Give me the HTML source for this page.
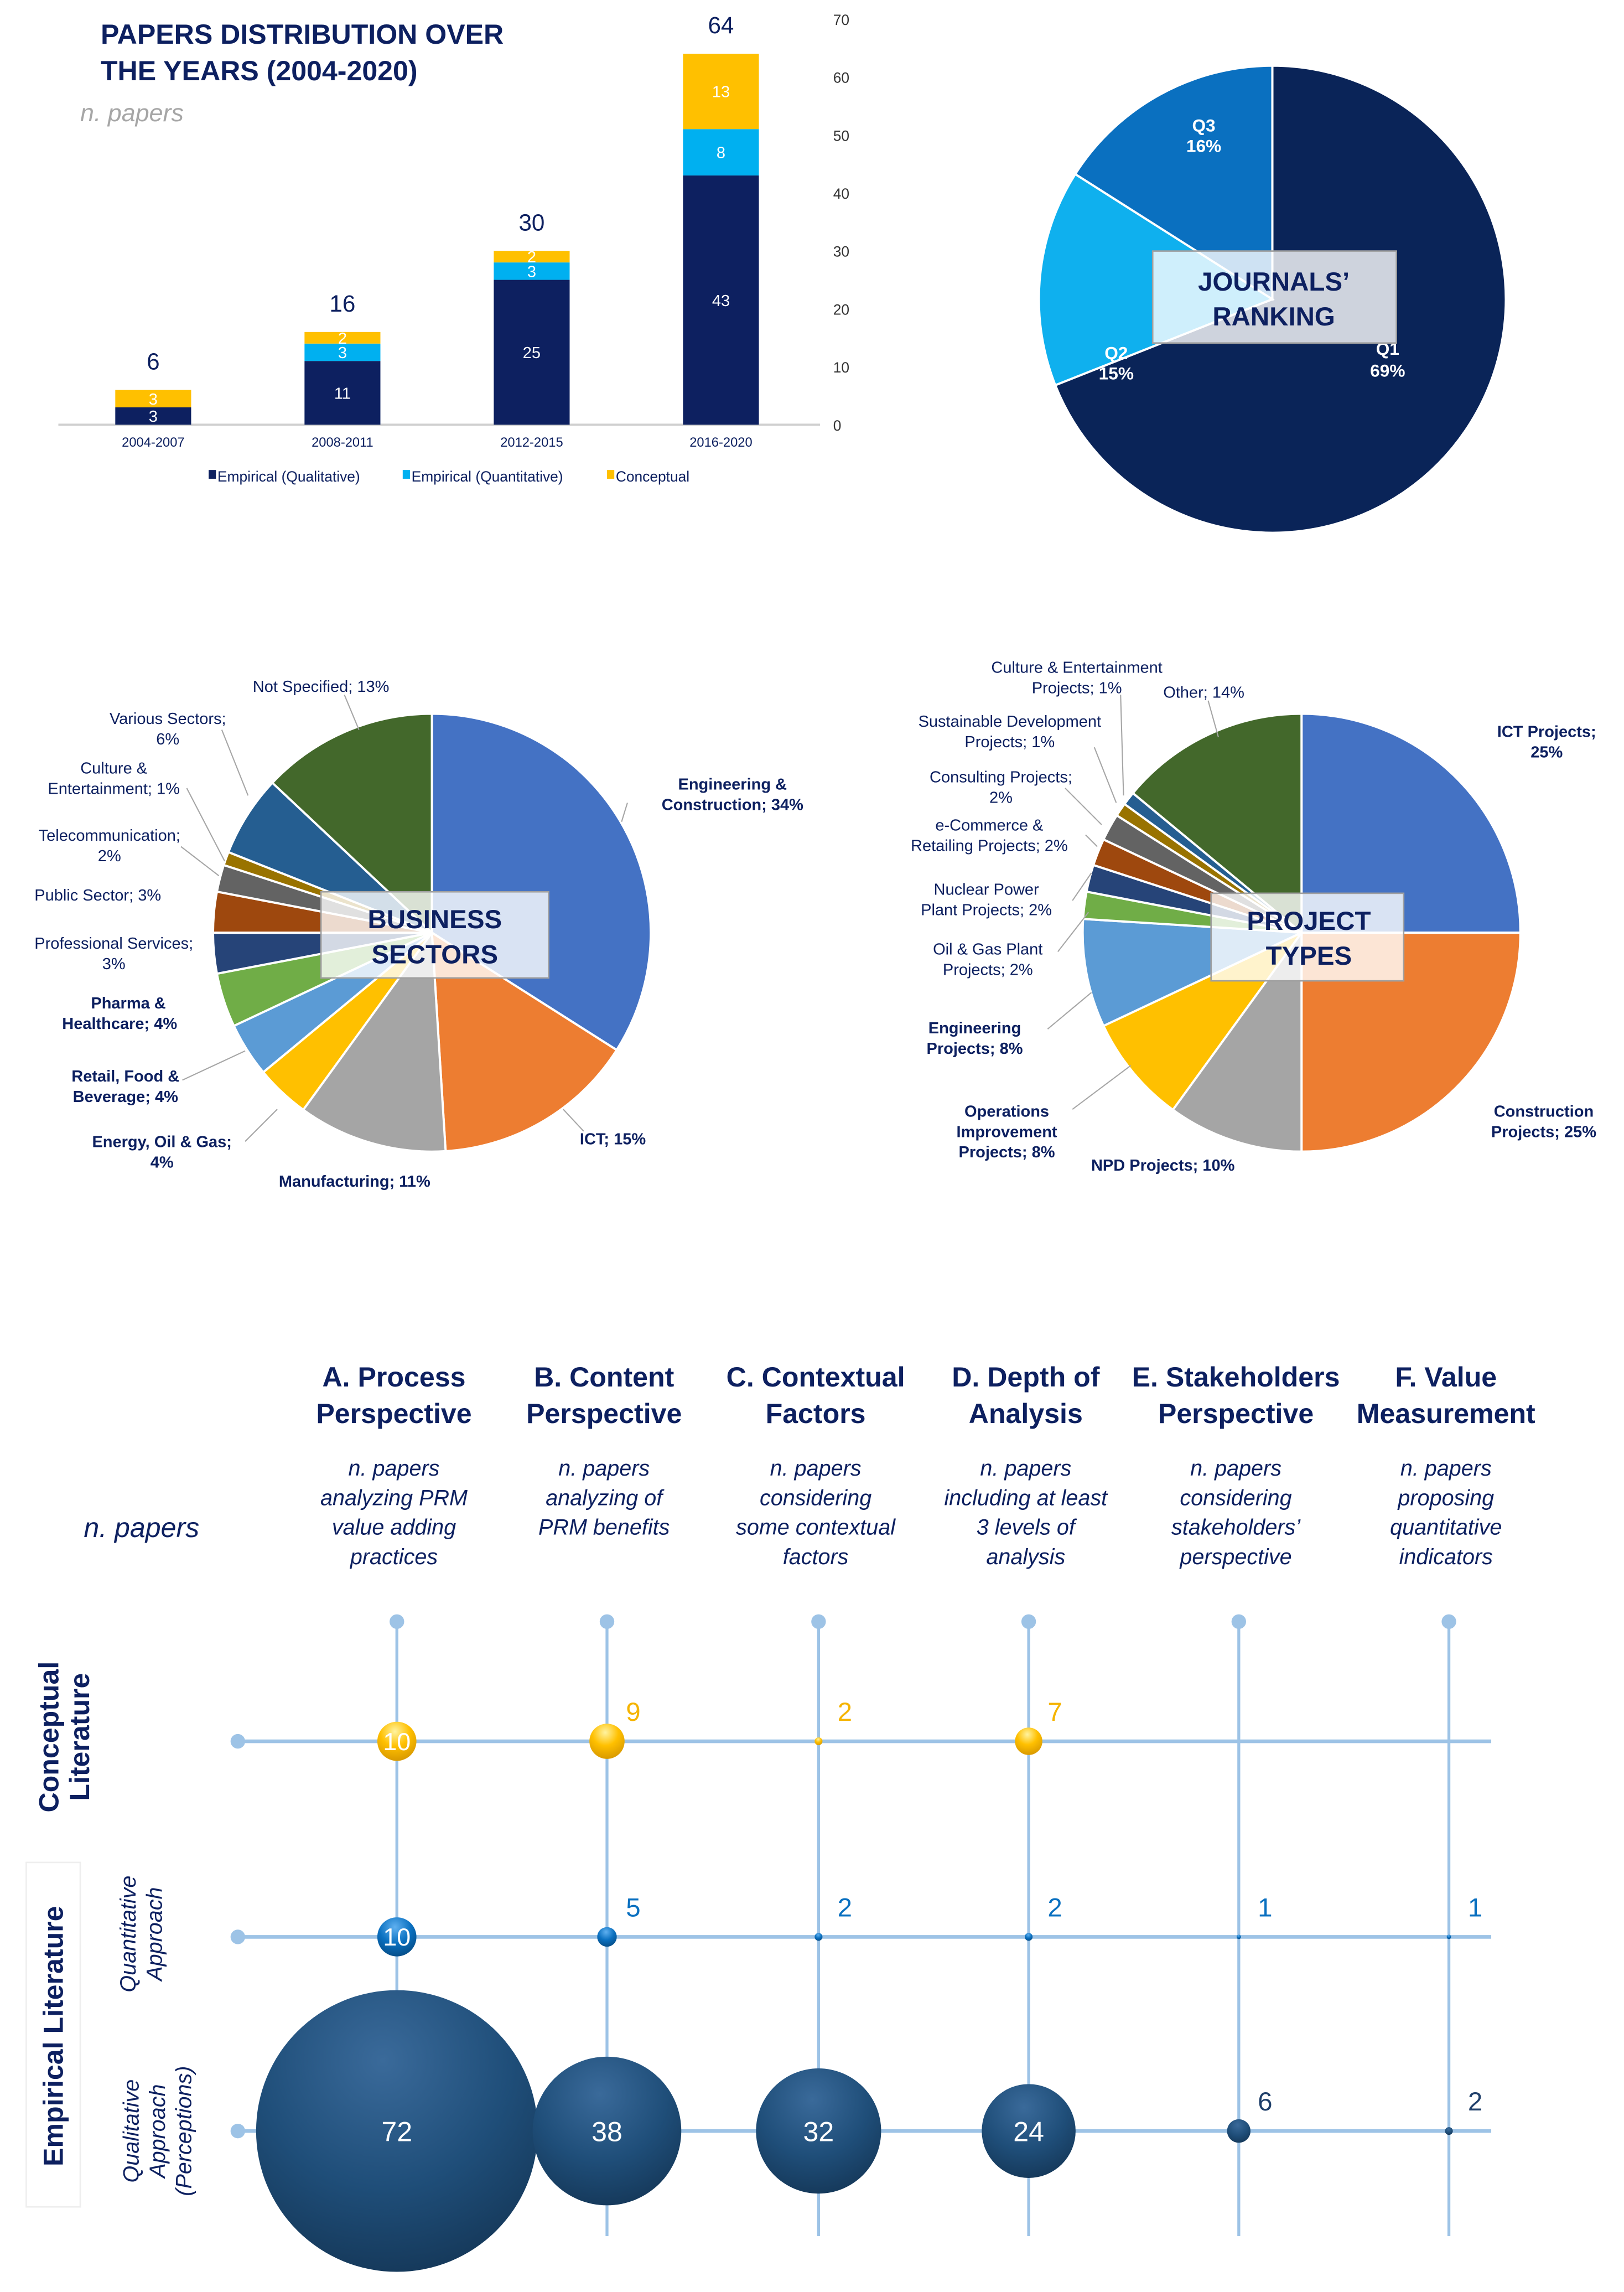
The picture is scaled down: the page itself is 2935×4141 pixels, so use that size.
<!DOCTYPE html>
<html><head><meta charset="utf-8">
<style>
html,body{margin:0;padding:0;background:#fff;}
svg{display:block;font-family:"Liberation Sans",sans-serif;}
</style></head>
<body>
<svg id="root" xmlns="http://www.w3.org/2000/svg" width="2935" height="4141" viewBox="0 0 1113 1570.3" preserveAspectRatio="none">
<defs>
 <radialGradient id="gNavy" cx="45%" cy="25%" r="75%"><stop offset="0" stop-color="#3a6a9a"/><stop offset="0.6" stop-color="#1f4e79"/><stop offset="1" stop-color="#163a5c"/></radialGradient>
 <radialGradient id="gYel" cx="45%" cy="25%" r="75%"><stop offset="0" stop-color="#fff3a0"/><stop offset="0.5" stop-color="#ffc000"/><stop offset="1" stop-color="#d99a00"/></radialGradient>
 <radialGradient id="gBlue" cx="45%" cy="25%" r="75%"><stop offset="0" stop-color="#5fb0f0"/><stop offset="0.55" stop-color="#0a70c0"/><stop offset="1" stop-color="#064f8a"/></radialGradient>
</defs>
<rect width="1113" height="1570.3" fill="#fff"/>

<!-- Bar chart -->
<g id="bar">
 <text x="69" y="30" font-size="19" font-weight="bold" fill="#0d2060">PAPERS DISTRIBUTION OVER</text>
 <text x="69" y="55" font-size="19" font-weight="bold" fill="#0d2060">THE YEARS (2004-2020)</text>
 <text x="55" y="83" font-size="17" font-style="italic" fill="#a6a6a6">n. papers</text>
 <line x1="40" y1="291" x2="562" y2="291" stroke="#d0d0d0" stroke-width="1.5"/>
 <g id="legend">
  <rect x="143" y="322" width="5" height="6" fill="#0d2060"/>
  <text x="149" y="330" font-size="10" fill="#0d2060">Empirical (Qualitative)</text>
  <rect x="276" y="322" width="5" height="6" fill="#00b0f0"/>
  <text x="282" y="330" font-size="10" fill="#0d2060">Empirical (Quantitative)</text>
  <rect x="416" y="322" width="5" height="6" fill="#ffc000"/>
  <text x="422" y="330" font-size="10" fill="#0d2060">Conceptual</text>
 </g>
</g>

<!-- Journals pie -->
<g id="jpie"></g>
<g font-weight="bold" font-size="12" fill="#fff" text-anchor="middle">
 <text x="825" y="90">Q3</text>
 <text x="825" y="104">16%</text>
 <text x="765" y="246">Q2</text>
 <text x="765" y="260">15%</text>
 <text x="951" y="243">Q1</text>
 <text x="951" y="258">69%</text>
</g>
<rect x="790" y="172" width="167" height="63" fill="#fff" fill-opacity="0.8" stroke="#a0a0a0" stroke-width="1"/>
<text x="873" y="199" font-size="18" font-weight="bold" fill="#0d2060" text-anchor="middle">JOURNALS’</text>
<text x="873" y="223" font-size="18" font-weight="bold" fill="#0d2060" text-anchor="middle">RANKING</text>

<!-- Business sectors pie -->
<g id="bpie"></g>
<g stroke="#a6a6a6" stroke-width="0.8" fill="none">
 <line x1="236" y1="476" x2="246" y2="500"/>
 <line x1="152" y1="500" x2="170" y2="545"/>
 <line x1="128" y1="540" x2="154" y2="590"/>
 <line x1="124" y1="580" x2="150" y2="600"/>
 <line x1="400" y1="775" x2="386" y2="760"/>
 <line x1="168" y1="782" x2="190" y2="760"/>
 <line x1="125" y1="740" x2="168" y2="720"/>
 <line x1="430" y1="550" x2="426" y2="563"/>
</g>
<g font-size="11" fill="#0d2060" text-anchor="middle">
 <text x="502" y="541" font-weight="bold">Engineering &amp;</text>
 <text x="502" y="555" font-weight="bold">Construction; 34%</text>
 <text x="420" y="784" font-weight="bold">ICT; 15%</text>
 <text x="243" y="813" font-weight="bold">Manufacturing; 11%</text>
 <text x="111" y="786" font-weight="bold">Energy, Oil &amp; Gas;</text>
 <text x="111" y="800" font-weight="bold">4%</text>
 <text x="86" y="741" font-weight="bold">Retail, Food &amp;</text>
 <text x="86" y="755" font-weight="bold">Beverage; 4%</text>
 <text x="88" y="691" font-weight="bold">Pharma &amp;</text>
 <text x="82" y="705" font-weight="bold">Healthcare; 4%</text>
 <text x="78" y="650">Professional Services;</text>
 <text x="78" y="664">3%</text>
 <text x="67" y="617">Public Sector; 3%</text>
 <text x="75" y="576">Telecommunication;</text>
 <text x="75" y="590">2%</text>
 <text x="78" y="530">Culture &amp;</text>
 <text x="78" y="544">Entertainment; 1%</text>
 <text x="115" y="496">Various Sectors;</text>
 <text x="115" y="510">6%</text>
 <text x="220" y="474">Not Specified; 13%</text>
</g>
<rect x="220" y="611" width="156" height="59" fill="#fff" fill-opacity="0.8" stroke="#a0a0a0" stroke-width="1"/>
<text x="298" y="636" font-size="18" font-weight="bold" fill="#0d2060" text-anchor="middle">BUSINESS</text>
<text x="298" y="660" font-size="18" font-weight="bold" fill="#0d2060" text-anchor="middle">SECTORS</text>

<!-- Project types pie -->
<g id="ppie"></g>
<g stroke="#a6a6a6" stroke-width="0.8" fill="none">
 <line x1="768" y1="476" x2="770" y2="545"/>
 <line x1="750" y1="512" x2="765" y2="550"/>
 <line x1="730" y1="540" x2="755" y2="565"/>
 <line x1="744" y1="572" x2="752" y2="580"/>
 <line x1="735" y1="617" x2="748" y2="598"/>
 <line x1="725" y1="652" x2="746" y2="625"/>
 <line x1="718" y1="705" x2="748" y2="680"/>
 <line x1="735" y1="760" x2="775" y2="730"/>
 <line x1="828" y1="480" x2="835" y2="505"/>
</g>
<g font-size="11" fill="#0d2060" text-anchor="middle">
 <text x="1060" y="505" font-weight="bold">ICT Projects;</text>
 <text x="1060" y="519" font-weight="bold">25%</text>
 <text x="1058" y="765" font-weight="bold">Construction</text>
 <text x="1058" y="779" font-weight="bold">Projects; 25%</text>
 <text x="797" y="802" font-weight="bold">NPD Projects; 10%</text>
 <text x="690" y="765" font-weight="bold">Operations</text>
 <text x="690" y="779" font-weight="bold">Improvement</text>
 <text x="690" y="793" font-weight="bold">Projects; 8%</text>
 <text x="668" y="708" font-weight="bold">Engineering</text>
 <text x="668" y="722" font-weight="bold">Projects; 8%</text>
 <text x="677" y="654">Oil &amp; Gas Plant</text>
 <text x="677" y="668">Projects; 2%</text>
 <text x="676" y="613">Nuclear Power</text>
 <text x="676" y="627">Plant Projects; 2%</text>
 <text x="678" y="569">e-Commerce &amp;</text>
 <text x="678" y="583">Retailing Projects; 2%</text>
 <text x="686" y="536">Consulting Projects;</text>
 <text x="686" y="550">2%</text>
 <text x="692" y="498">Sustainable Development</text>
 <text x="692" y="512">Projects; 1%</text>
 <text x="738" y="461">Culture &amp; Entertainment</text>
 <text x="738" y="475">Projects; 1%</text>
 <text x="825" y="478">Other; 14%</text>
</g>
<rect x="830" y="612" width="132" height="60" fill="#fff" fill-opacity="0.8" stroke="#a0a0a0" stroke-width="1"/>
<text x="897" y="637" font-size="18" font-weight="bold" fill="#0d2060" text-anchor="middle">PROJECT</text>
<text x="897" y="661" font-size="18" font-weight="bold" fill="#0d2060" text-anchor="middle">TYPES</text>

<!-- Bubble matrix -->
<g id="bubble">
 <text x="97" y="1053" font-size="19" font-style="italic" fill="#0d2060" text-anchor="middle">n. papers</text>
 <rect x="18" y="1276" width="37" height="236" fill="#fff" stroke="#eeeeee"/>
 <g transform="translate(48,1190) rotate(-90)">
  <text x="0" y="-8" font-size="19" font-weight="bold" fill="#0d2060" text-anchor="middle">Conceptual</text>
  <text x="0" y="13" font-size="19" font-weight="bold" fill="#0d2060" text-anchor="middle">Literature</text>
 </g>
 <text transform="translate(43,1395) rotate(-90)" font-size="19" font-weight="bold" fill="#0d2060" text-anchor="middle">Empirical Literature</text>
 <g transform="translate(97,1325) rotate(-90)" font-size="15" font-style="italic" fill="#0d2060" text-anchor="middle">
  <text x="0" y="-4">Quantitative</text><text x="0" y="14">Approach</text>
 </g>
 <g transform="translate(108,1460) rotate(-90)" font-size="15" font-style="italic" fill="#0d2060" text-anchor="middle">
  <text x="0" y="-13">Qualitative</text><text x="0" y="5">Approach</text><text x="0" y="23">(Perceptions)</text>
 </g>
</g>

<script>
var NS="http://www.w3.org/2000/svg";
function mk(tag,attrs,parent){var e=document.createElementNS(NS,tag);for(var k in attrs)e.setAttribute(k,attrs[k]);if(parent)parent.appendChild(e);return e;}

// ---- Bar chart data ----
var barCategories=["2004-2007","2008-2011","2012-2015","2016-2020"];
var barQualitative=[3,11,25,43];
var barQuantitative=[0,3,3,8];
var barConceptual=[3,2,2,13];
var barTicks=[0,10,20,30,40,50,60,70];

// ---- Pie data ----
var journalLabels=["Q1","Q2","Q3"];
var journalValues=[69,15,16];
var sectorLabels=["Engineering & Construction","ICT","Manufacturing","Energy, Oil & Gas","Retail, Food & Beverage","Pharma & Healthcare","Professional Services","Public Sector","Telecommunication","Culture & Entertainment","Various Sectors","Not Specified"];
var sectorValues=[34,15,11,4,4,4,3,3,2,1,6,13];
var projectLabels=["ICT Projects","Construction Projects","NPD Projects","Operations Improvement Projects","Engineering Projects","Oil & Gas Plant Projects","Nuclear Power Plant Projects","e-Commerce & Retailing Projects","Consulting Projects","Sustainable Development Projects","Culture & Entertainment Projects","Other"];
var projectValues=[25,25,10,8,8,2,2,2,2,1,1,14];

// ---- Bubble data ----
var bubbleColumns=["A. Process|Perspective","B. Content|Perspective","C. Contextual|Factors","D. Depth of|Analysis","E. Stakeholders|Perspective","F. Value|Measurement"];
var bubbleSubtitles=["n. papers|analyzing PRM|value adding|practices","n. papers|analyzing of|PRM benefits","n. papers|considering|some contextual|factors","n. papers|including at least|3 levels of|analysis","n. papers|considering|stakeholders’|perspective","n. papers|proposing|quantitative|indicators"];
var conceptualValues=[10,9,2,7,0,0];
var quantitativeValues=[10,5,2,2,1,1];
var qualitativeValues=[72,38,32,24,6,2];

// ===== Bar chart =====
(function(){
 var g=document.getElementById('bar');
 var y0=291,unit=278/70,bw=52;
 function ys(v){return y0-v*unit;}
 function xc(i){return 105+i*129.7;}
 barTicks.forEach(function(t){
  var tx=mk('text',{x:571,y:ys(t)+4,'font-size':10,fill:'#333','text-anchor':'start'},g);tx.textContent=t;
  
  
 });
 var series=[[barQualitative,'#0d2060','qualitative'],[barQuantitative,'#00b0f0','quantitative'],[barConceptual,'#ffc000','conceptual']];
 barCategories.forEach(function(c,i){
  var base=0;
  series.forEach(function(s){
   var v=s[0][i]; if(v<=0)return;
   var r=mk('rect',{x:xc(i)-bw/2,y:ys(base+v),width:bw,height:v*unit,fill:s[1]},g);
   
   
   var t=mk('text',{x:xc(i),y:ys(base+v/2)+4,'font-size':11,fill:'#fff','text-anchor':'middle'},g);t.textContent=v;
   
   
   base+=v;
  });
  var tot=mk('text',{x:xc(i),y:ys(base)-14,'font-size':16,fill:'#0d2060','text-anchor':'middle'},g);tot.textContent=base;
  
  
  var cl=mk('text',{x:xc(i),y:306,'font-size':9,fill:'#0d2060','text-anchor':'middle'},g);cl.textContent=c;
  
  
 });
})();

// ===== Pies =====
function drawPie(id,cx,cy,r,vals,labels,colors){
 var g=document.getElementById(id);
 var tot=vals.reduce(function(a,b){return a+b;},0),a=0;
 vals.forEach(function(v,i){
  var a1=a+v/tot*2*Math.PI;
  var x0=cx+r*Math.sin(a),y0=cy-r*Math.cos(a),x1=cx+r*Math.sin(a1),y1=cy-r*Math.cos(a1);
  var large=(a1-a)>Math.PI?1:0;
  var p=mk('path',{d:'M'+cx+','+cy+' L'+x0+','+y0+' A'+r+','+r+' 0 '+large+' 1 '+x1+','+y1+' Z',fill:colors[i],stroke:'#fff','stroke-width':1.5},g);
  
  
  a=a1;
 });
}
var pal=['#4472c4','#ed7d31','#a5a5a5','#ffc000','#5b9bd5','#70ad47','#264478','#9e480e','#636363','#997300','#255e91','#43682b'];
drawPie('jpie',872,205,160,journalValues,journalLabels,['#0a2458','#0fb0ee','#0a70c0']);
drawPie('bpie',296,639,150,sectorValues,sectorLabels,pal);
drawPie('ppie',892,639,150,projectValues,projectLabels,pal);

// ===== Bubble matrix =====
(function(){
 var g=document.getElementById('bubble');
 var cols=[272,416,561,705,849,993], rows=[1193,1327,1460];
 bubbleColumns.forEach(function(h,i){
  h.split('|').forEach(function(l,k){
   var t=mk('text',{x:cols[i]-2,y:950+k*25,'font-size':19,'font-weight':'bold',fill:'#0d2060','text-anchor':'middle'},g);t.textContent=l;
   
   
  });
  bubbleSubtitles[i].split('|').forEach(function(l,k){
   var t=mk('text',{x:cols[i]-2,y:1011+k*20.2,'font-size':15,'font-style':'italic',fill:'#0d2060','text-anchor':'middle'},g);t.textContent=l;
   
   
  });
 });
 cols.forEach(function(x){
  var l=mk('line',{x1:x,y1:1111,x2:x,y2:1532,stroke:'#9dc3e6','stroke-width':2},g);
  
  
  var d=mk('circle',{cx:x,cy:1111,r:5,fill:'#9dc3e6'},g);
  
  
 });
 rows.forEach(function(y){
  var l=mk('line',{x1:163,y1:y,x2:1022,y2:y,stroke:'#9dc3e6','stroke-width':2.5},g);
  
  
  var d=mk('circle',{cx:163,cy:y,r:5,fill:'#9dc3e6'},g);
  
  
 });
 var rowSets=[[conceptualValues,'url(#gYel)','#f5b400','conceptual'],[quantitativeValues,'url(#gBlue)','#0a70c0','quantitative'],[qualitativeValues,'url(#gNavy)','#1f3f6a','qualitative']];
 rowSets.forEach(function(rs,ri){
  rs[0].forEach(function(v,ci){
   if(v<=0)return;
   var r=1.34*v,x=cols[ci],y=rows[ri];
   var c=mk('circle',{cx:x,cy:y,r:Math.max(r,1.5),fill:rs[1]},g);
   
   
   var t;
   if(r>=12.5){
    t=mk('text',{x:x,y:y+(r>30?7:6),'font-size':r>30?19:17,fill:'#fff','text-anchor':'middle'},g);
   } else {
    t=mk('text',{x:x+18,y:y-14,'font-size':18,fill:rs[2],'text-anchor':'middle'},g);
   }
   t.textContent=v;
   
   
  });
 });
})();
</script>
</svg>
</body></html>
